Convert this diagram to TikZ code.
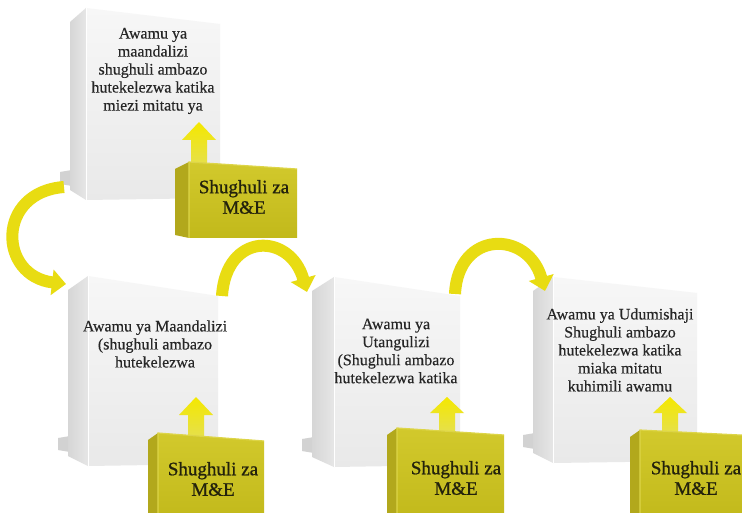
\documentclass[tikz,border=0pt]{standalone}
\usepackage{fontspec}
\setmainfont{Liberation Serif}
\newfontfamily\boxfont[FakeBold=0.3]{Liberation Serif}
\newfontfamily\mefont[FakeBold=0.9]{Liberation Serif}
\usetikzlibrary{arrows.meta}

\definecolor{inkdark}{HTML}{262626}
\definecolor{inkolive}{HTML}{23220C}
\definecolor{wfronttop}{HTML}{F7F7F7}
\definecolor{wfrontbot}{HTML}{E9E9E9}
\definecolor{wsideL}{HTML}{D6D6D6}
\definecolor{wsideR}{HTML}{E6E6E6}
\definecolor{wfoot}{HTML}{D2D2D2}
\definecolor{yfronttop}{HTML}{D2C92C}
\definecolor{yfrontbot}{HTML}{C2B91B}
\definecolor{yside}{HTML}{B2A81C}
\definecolor{yedge}{HTML}{DDD548}
\definecolor{arrowyel}{HTML}{E8DC12}
\definecolor{uptop}{HTML}{F4E800}
\definecolor{upbot}{HTML}{E6E04A}

\tikzset{
  wtext/.style={align=center, text=inkdark, font=\boxfont\fontsize{16}{18}\selectfont, inner sep=0pt},
  ytext/.style={align=center, text=inkolive, font=\mefont\fontsize{19}{20.5}\selectfont, inner sep=0pt},
  bendarrow/.style={draw=arrowyel, line width=12pt,
    -{Triangle[width=25pt,length=14pt,fill=arrowyel]}},
}

% white box: #1 left edge, #2 front-left edge, #3 right edge,
% #4 top at front-left, #5 top at right, #6 bottom
\newcommand{\drawwbox}[6]{%
  \fill[wfoot] (#1-10,#6-28) -- (#1+2,#6-30) -- (#1+2,#6-14) -- (#1-10,#6-16) -- cycle;
  \shade[left color=wsideL, right color=wsideR] (#1,#4+14) -- (#2,#4) -- (#2,#6) -- (#1,#6-10) -- cycle;
  \shade[top color=wfronttop, bottom color=wfrontbot] (#2,#4) -- (#3,#5) -- (#3,#6-2) -- (#2,#6) -- cycle;
  \draw[white, line width=0.8pt] (#2,#4) -- (#2,#6);
}

% yellow box, same argument order
\newcommand{\drawybox}[6]{%
  \fill[yside] (#1,#4+7) -- (#2,#4) -- (#2,#6) -- (#1,#6-3) -- cycle;
  \shade[top color=yfronttop, bottom color=yfrontbot] (#2,#4) -- (#3,#5) -- (#3,#6) -- (#2,#6) -- cycle;
  \draw[yedge, line width=1.2pt] (#2,#6) -- (#2,#4) -- (#3,#5);
}

% block arrow pointing up: #1 centre x, #2 tip y, #3 head base y, #4 foot y
\newcommand{\drawuparrow}[4]{%
  \shade[top color=uptop, bottom color=upbot]
    (#1,#2) -- (#1+17,#3) -- (#1+8,#3) -- (#1+8,#4) -- (#1-8,#4) -- (#1-8,#3) -- (#1-17,#3) -- cycle;
}

\begin{document}
\begin{tikzpicture}[x=1pt,y=-1pt]
\useasboundingbox (0,0) rectangle (742,513);
\clip (0,0) rectangle (742,513);
\fill[white] (0,0) rectangle (742,513);

% phase boxes
\drawwbox{70}{86}{220}{8}{24}{200}
\drawwbox{68}{88}{218}{276}{296}{466}
\drawwbox{312}{334}{460}{277}{296}{467}
\drawwbox{533}{553}{697}{277}{293}{463}

\node[wtext] (t1) at (153,71) {Awamu ya\\maandalizi\\shughuli ambazo\\hutekelezwa katika\\miezi mitatu ya};
\node[wtext] (t2) at (155,344) {Awamu ya Maandalizi\\(shughuli ambazo\\hutekelezwa};
\node[wtext] (t3) at (396,351) {Awamu ya\\Utangulizi\\(Shughuli ambazo\\hutekelezwa katika};
\node[wtext] (t4) at (620,350) {Awamu ya Udumishaji\\Shughuli ambazo\\hutekelezwa katika\\miaka mitatu\\kuhimili awamu};

% curved arrows between phases
\coordinate (c1s) at (64,187);
\coordinate (c1e) at (66,284);
\coordinate (c2s) at (222,296);
\coordinate (c2e) at (307,292);
\coordinate (c3s) at (455,294);
\coordinate (c3e) at (545,291);
\draw[bendarrow] (c1s) .. controls (-4,192) and (-2,276) .. (c1e);
\draw[bendarrow] (c2s) .. controls (226,232) and (290,232) .. (c2e);
\draw[bendarrow] (c3s) .. controls (458,230) and (528,230) .. (c3e);

% M&E arrows
\drawuparrow{199}{122}{140}{164}
\drawuparrow{196}{397}{415}{436}
\drawuparrow{447}{397}{413}{431}
\drawuparrow{670}{397}{413}{433}

% M&E boxes
\drawybox{175}{189}{297}{162}{169}{238}
\drawybox{148}{158}{264}{433}{441}{520}
\drawybox{387}{397}{504}{428}{435}{520}
\drawybox{630}{640}{760}{430}{436}{520}

\node[ytext] (m1) at (244,197) {Shughuli za\\M\&E};
\node[ytext] (m2) at (213,479) {Shughuli za\\M\&E};
\node[ytext] (m3) at (456,478) {Shughuli za\\M\&E};
\node[ytext] (m4) at (696,478) {Shughuli za\\M\&E};
\end{tikzpicture}
\end{document}
